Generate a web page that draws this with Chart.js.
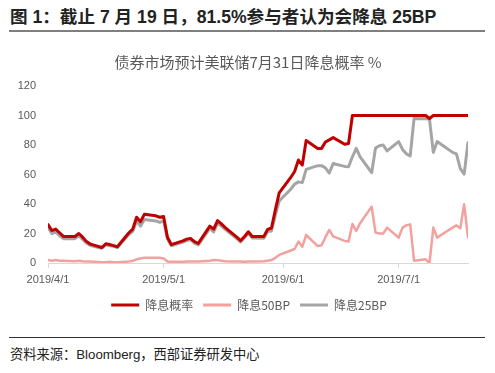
<!DOCTYPE html>
<html>
<head>
<meta charset="utf-8">
<script src="https://cdn.jsdelivr.net/npm/chart.js@4.4.1/dist/chart.umd.min.js"></script>
<style>
  body { margin: 0; background: #fff; width: 495px; height: 373px; position: relative; overflow: hidden; }
  #heading {
    position: absolute; left: 10px; top: 3px;
    font: bold 17.6px "Liberation Sans", "Noto Sans CJK SC", sans-serif; color: #222;
    white-space: nowrap;
  }
  #topRule { position: absolute; left: 9px; width: 476px; top: 30px; height: 2px; background: #7f7f7f; }
  #bottomRule { position: absolute; left: 9px; width: 476px; top: 337px; height: 1px; background: #333; }
  #source {
    position: absolute; left: 10px; top: 344px;
    font: 13.25px "Liberation Sans", "Noto Sans CJK SC", sans-serif; color: #222;
    white-space: nowrap;
  }
  #chart { position: absolute; left: 0; top: 40px; }
</style>
</head>
<body>
<div id="heading">图 1：截止 7 月 19 日，81.5%参与者认为会降息 25BP</div>
<div id="topRule"></div>
<canvas id="chart" width="495" height="281"></canvas>
<div id="bottomRule"></div>
<div id="source">资料来源：Bloomberg，西部证券研发中心</div>

<script>
// trading days, 2019
const dates = [
  '4/1','4/2','4/3','4/4','4/5',
  '4/8','4/9','4/10','4/11','4/12',
  '4/15','4/16','4/17','4/18','4/19',
  '4/22','4/23','4/24','4/25','4/26',
  '4/29','4/30','5/1','5/2','5/3',
  '5/6','5/7','5/8','5/9','5/10',
  '5/13','5/14','5/15','5/16','5/17',
  '5/20','5/21','5/22','5/23','5/24',
  '5/27','5/28','5/29','5/30','5/31',
  '6/3','6/4','6/5','6/6','6/7',
  '6/10','6/11','6/12','6/13','6/14',
  '6/17','6/18','6/19','6/20','6/21',
  '6/24','6/25','6/26','6/27','6/28',
  '7/1','7/2','7/3','7/4','7/5',
  '7/8','7/9','7/10','7/11','7/12',
  '7/15','7/16','7/17','7/18','7/19'
];

// 降息概率
const cutProb = [
  26, 22, 23, 20.5, 18,
  18, 20, 17.5, 14.5, 12.8,
  10.5, 13, 12.5, 11.8, 11,
  20.5, 23, 31, 28, 33,
  32, 31, 31.5, 17.5, 12.5,
  15, 16.2, 16.7, 14.5, 13.3,
  25, 23, 28.7, 26.5, 24,
  17.5, 15.2, 18, 21.2, 18,
  18, 22.8, 23.7, 36, 47.5,
  58, 62, 69.8, 66.4, 83,
  77.7, 77.7, 82, 83.5, 85,
  80.5, 81, 100, 100, 100,
  100, 100, 100, 100, 100,
  100, 100, 100, 100, 100,
  100, 98, 100, 100, 100,
  100, 100, 100, 100, 100
];

// 降息50BP
const cut50 = [
  2, 1.5, 2, 1.5, 1.5,
  1.2, 1.5, 1.2, 1, 1,
  0.5, 0.5, 0.8, 0.5, 0.5,
  1, 1.5, 2.5, 3, 3.5,
  3.5, 3.5, 3, 1, 0.8,
  0.8, 1, 1, 1, 1,
  1.5, 2, 1.8, 1.5, 1.2,
  1, 1, 0.8, 1, 1,
  1.2, 1.5, 2, 3.5, 5.5,
  8.5, 9.5, 14.5, 11, 19,
  11.5, 12, 17.5, 22.4, 18,
  15, 14.5, 26.5, 21.7, 27,
  38.2, 20.6, 20, 20, 24,
  17.2, 24, 25.5, 26.2, 1.6,
  2.5, 0, 24, 17.2, 19,
  24, 25.5, 23.5, 39.8, 17.4
];

// 降息25BP
const cut25 = [
  24, 20, 21, 18.5, 16.5,
  16.5, 18.5, 16, 13.5, 11.8,
  10, 12.5, 11.7, 11.3, 10.5,
  19.5, 21.5, 28.5, 25, 29.5,
  28.5, 27.5, 28.5, 16.5, 11.7,
  14.2, 15.2, 15.7, 13.5, 12.3,
  23.5, 21, 27, 25, 22.8,
  16.5, 14.2, 17.2, 20.2, 17,
  16.8, 21.3, 21.7, 32.5, 42,
  50, 53.5, 55, 54.5, 63.5,
  66, 66, 64.5, 61, 67.5,
  65.5, 65.3, 72, 77.7, 72,
  61.2, 78, 79.5, 80, 76,
  82.3, 77, 74, 72.5, 98,
  97.8, 97.5, 75, 82.3, 80.5,
  75, 74, 64, 60.3, 81.5
];

const xTickLabels = ['2019/4/1', '2019/5/1', '2019/6/1', '2019/7/1'];
const yTicks = [0, 20, 40, 60, 80, 100, 120];

const chartTitle = '债券市场预计美联储7月31日降息概率 %';

const base = Date.UTC(2019, 3, 1);
function dayOf(m, d) { return (Date.UTC(2019, m - 1, d) - base) / 86400000; }
const days = dates.map(s => { const p = s.split('/'); return dayOf(+p[0], +p[1]); });
const tickDays = xTickLabels.map(s => { const p = s.split('/'); return dayOf(+p[1], +p[2]); });

function pts(values) {
  return values.map((v, i) => ({ x: days[i], y: v }));
}

const fontFam = '"Liberation Sans", "Noto Sans CJK SC", sans-serif';
const cjkFam = '"Noto Sans CJK SC", "Liberation Sans", sans-serif';
const defaultLabels = Chart.defaults.plugins.legend.labels.generateLabels;

// title and legend are centred on the page, not on the plot
const shiftBoxes = {
  id: 'shiftBoxes',
  afterLayout(chart) {
    if (chart.legend) { chart.legend.left += 15; chart.legend.right += 15; }
    if (chart.titleBlock) { chart.titleBlock.left += 14; chart.titleBlock.right += 14; }
  }
};

new Chart(document.getElementById('chart'), {
  type: 'line',
  data: {
    datasets: [
      { label: '降息概率', data: pts(cutProb), borderColor: '#C00000', borderWidth: 3 },
      { label: '降息50BP', data: pts(cut50), borderColor: '#F2A19C', borderWidth: 2.5 },
      { label: '降息25BP', data: pts(cut25), borderColor: '#A5A5A5', borderWidth: 3 }
    ]
  },
  options: {
    responsive: false,
    animation: false,
    devicePixelRatio: 1,
    layout: { padding: { left: 0, right: 27, top: 0, bottom: 0 } },
    elements: {
      point: { radius: 0 },
      line: { tension: 0, borderJoinStyle: 'round', borderCapStyle: 'round', fill: false }
    },
    scales: {
      x: {
        type: 'linear',
        min: days[0],
        max: days[days.length - 1],
        afterBuildTicks: s => { s.ticks = tickDays.map(v => ({ value: v })); },
        afterFit: s => { s.height = 26; },
        ticks: {
          autoSkip: false, maxRotation: 0, padding: 5,
          color: '#595959', font: { size: 11, family: fontFam },
          callback: v => xTickLabels[tickDays.indexOf(v)]
        },
        grid: { drawOnChartArea: false, drawTicks: true, tickLength: 5, color: '#d9d9d9' },
        border: { display: true, color: '#d9d9d9', width: 1 }
      },
      y: {
        min: 0,
        max: 120,
        afterBuildTicks: s => { s.ticks = yTicks.map(v => ({ value: v })); },
        afterFit: s => { s.width = 48; },
        ticks: { padding: 12, color: '#595959', font: { size: 11, family: fontFam } },
        grid: { display: false, drawTicks: false },
        border: { display: false }
      }
    },
    plugins: {
      title: {
        display: true,
        text: chartTitle,
        color: '#595959',
        font: { size: 15, weight: 'normal', family: cjkFam },
        padding: { top: 13, bottom: 15 }
      },
      legend: {
        position: 'bottom',
        labels: {
          boxWidth: 28, boxHeight: 3, padding: 10,
          color: '#595959', font: { size: 12, family: cjkFam },
          generateLabels: chart => defaultLabels(chart).map(l => ({ ...l, fillStyle: l.strokeStyle, lineWidth: 0 }))
        }
      },
      tooltip: { enabled: false }
    }
  },
  plugins: [shiftBoxes]
});
</script>
</body>
</html>
